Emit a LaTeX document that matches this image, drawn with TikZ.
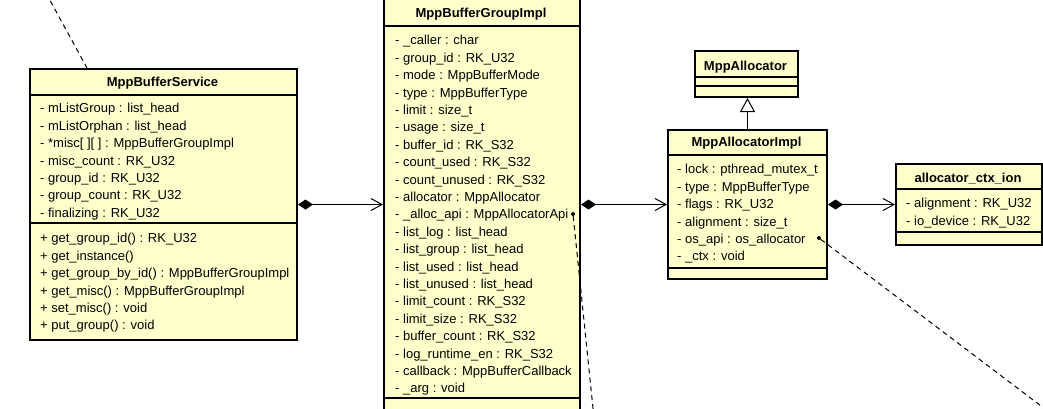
\documentclass[tikz,border=0pt]{standalone}
\usepackage{fontspec}
\setmainfont{Liberation Sans}
\usetikzlibrary{arrows.meta}
\definecolor{classfill}{RGB}{255,255,204}
\tikzset{
  classbox/.style={draw=black, line width=2pt, fill=classfill, inner sep=0pt, anchor=north west},
  classtitle/.style={font=\fontsize{13}{15}\selectfont\bfseries, inner sep=0pt, yshift=-1.5pt},
  member/.style={font=\fontsize{13}{15}\selectfont, inner sep=0pt, anchor=west, yshift=-1.5pt},
  divider/.style={line width=1.2pt},
  composition/.style={line width=1pt, {Diamond[length=15pt,width=10pt]}-{Straight Barb[length=11pt,width=12pt]}},
  generalization/.style={line width=1pt, -{Triangle[open,length=14pt,width=15pt]}},
  anchorline/.style={line width=1pt, dash pattern=on 5pt off 4pt},
  anchordot/.style={circle, fill=black, inner sep=0pt, minimum size=4pt},
}
\begin{document}
\begin{tikzpicture}[x=1pt,y=-1pt]
\useasboundingbox (0,0) rectangle (1043,408);
\fill[white] (0,0) rectangle (1043,408);
\clip (0,0) rectangle (1043,408);

% ---------- MppBufferService ----------
\node[classbox, minimum width=267, minimum height=271] (svc) at (29,68) {};
\node[classtitle] (svc-t) at (162.5,82) {MppBufferService};
\draw[divider] (29,95) -- (296,95);
\draw[divider] (29,223) -- (296,223);
\foreach \t [count=\i from 0] in {
  {- mListGroup : list\_head},
  {- mListOrphan : list\_head},
  {- *misc[ ][ ] : MppBufferGroupImpl},
  {- misc\_count : RK\_U32},
  {- group\_id : RK\_U32},
  {- group\_count : RK\_U32},
  {- finalizing : RK\_U32}}
  \node[member] (svc-a\i) at (40,108+17.4*\i) {\t};
\foreach \t [count=\i from 0] in {
  {+ get\_group\_id() : RK\_U32},
  {+ get\_instance()},
  {+ get\_group\_by\_id() : MppBufferGroupImpl},
  {+ get\_misc() : MppBufferGroupImpl},
  {+ set\_misc() : void},
  {+ put\_group() : void}}
  \node[member] (svc-m\i) at (40,238+17.4*\i) {\t};

% ---------- MppBufferGroupImpl ----------
\node[classbox, minimum width=196, minimum height=430] (grp) at (383,-2) {};
\node[classtitle] (grp-t) at (481,13) {MppBufferGroupImpl};
\draw[divider] (383,26) -- (579,26);
\draw[divider] (383,398) -- (579,398);
\foreach \t [count=\i from 0] in {
  {- \_caller : char},
  {- group\_id : RK\_U32},
  {- mode : MppBufferMode},
  {- type : MppBufferType},
  {- limit : size\_t},
  {- usage : size\_t},
  {- buffer\_id : RK\_S32},
  {- count\_used : RK\_S32},
  {- count\_unused : RK\_S32},
  {- allocator : MppAllocator},
  {- \_alloc\_api : MppAllocatorApi},
  {- list\_log : list\_head},
  {- list\_group : list\_head},
  {- list\_used : list\_head},
  {- list\_unused : list\_head},
  {- limit\_count : RK\_S32},
  {- limit\_size : RK\_S32},
  {- buffer\_count : RK\_S32},
  {- log\_runtime\_en : RK\_S32},
  {- callback : MppBufferCallback},
  {- \_arg : void}}
  \node[member] (grp-a\i) at (395,40+17.4*\i) {\t};

% ---------- MppAllocator ----------
\node[classbox, minimum width=103, minimum height=46] (alloc) at (694,50) {};
\node[classtitle] (alloc-t) at (745.5,66) {MppAllocator};
\draw[divider] (694,77) -- (797,77);
\draw[divider] (694,86) -- (797,86);

% ---------- MppAllocatorImpl ----------
\node[classbox, minimum width=159, minimum height=149] (aimpl) at (667,129) {};
\node[classtitle] (aimpl-t) at (746.5,142) {MppAllocatorImpl};
\draw[divider] (667,155) -- (826,155);
\draw[divider] (667,268) -- (826,268);
\foreach \t [count=\i from 0] in {
  {- lock : pthread\_mutex\_t},
  {- type : MppBufferType},
  {- flags : RK\_U32},
  {- alignment : size\_t},
  {- os\_api : os\_allocator},
  {- \_ctx : void}}
  \node[member] (aimpl-a\i) at (677,169+17.4*\i) {\t};

% ---------- allocator_ctx_ion ----------
\node[classbox, minimum width=146, minimum height=81] (ion) at (895,163) {};
\node[classtitle] (ion-t) at (968,177) {allocator\_ctx\_ion};
\draw[divider] (895,189) -- (1041,189);
\draw[divider] (895,232) -- (1041,232);
\node[member] (ion-a0) at (906,203) {- alignment : RK\_U32};
\node[member] (ion-a1) at (906,220.5) {- io\_device : RK\_U32};

% ---------- relations ----------
\draw[composition] (svc.east) -- (svc.east -| grp.west);
\draw[composition] (aimpl.west -| grp.east) -- (aimpl.west);
\draw[composition] (aimpl.east) -- (ion.west);
\draw[generalization] (aimpl.north) -- (aimpl.north |- alloc.south);

% ---------- note anchors ----------
\coordinate (svc-note) at (87,68);
\coordinate (top-note) at (46,-7);
\draw[anchorline] (top-note) -- (svc-note);

\node[anchordot] (api-dot) at (573,214) {};
\coordinate (api-note) at (594,418);
\draw[anchorline] (api-dot) -- (api-note);

\node[anchordot] (os-dot) at (819,238) {};
\coordinate (os-note) at (1057,418);
\draw[anchorline] (os-dot) -- (os-note);
\end{tikzpicture}
\end{document}
